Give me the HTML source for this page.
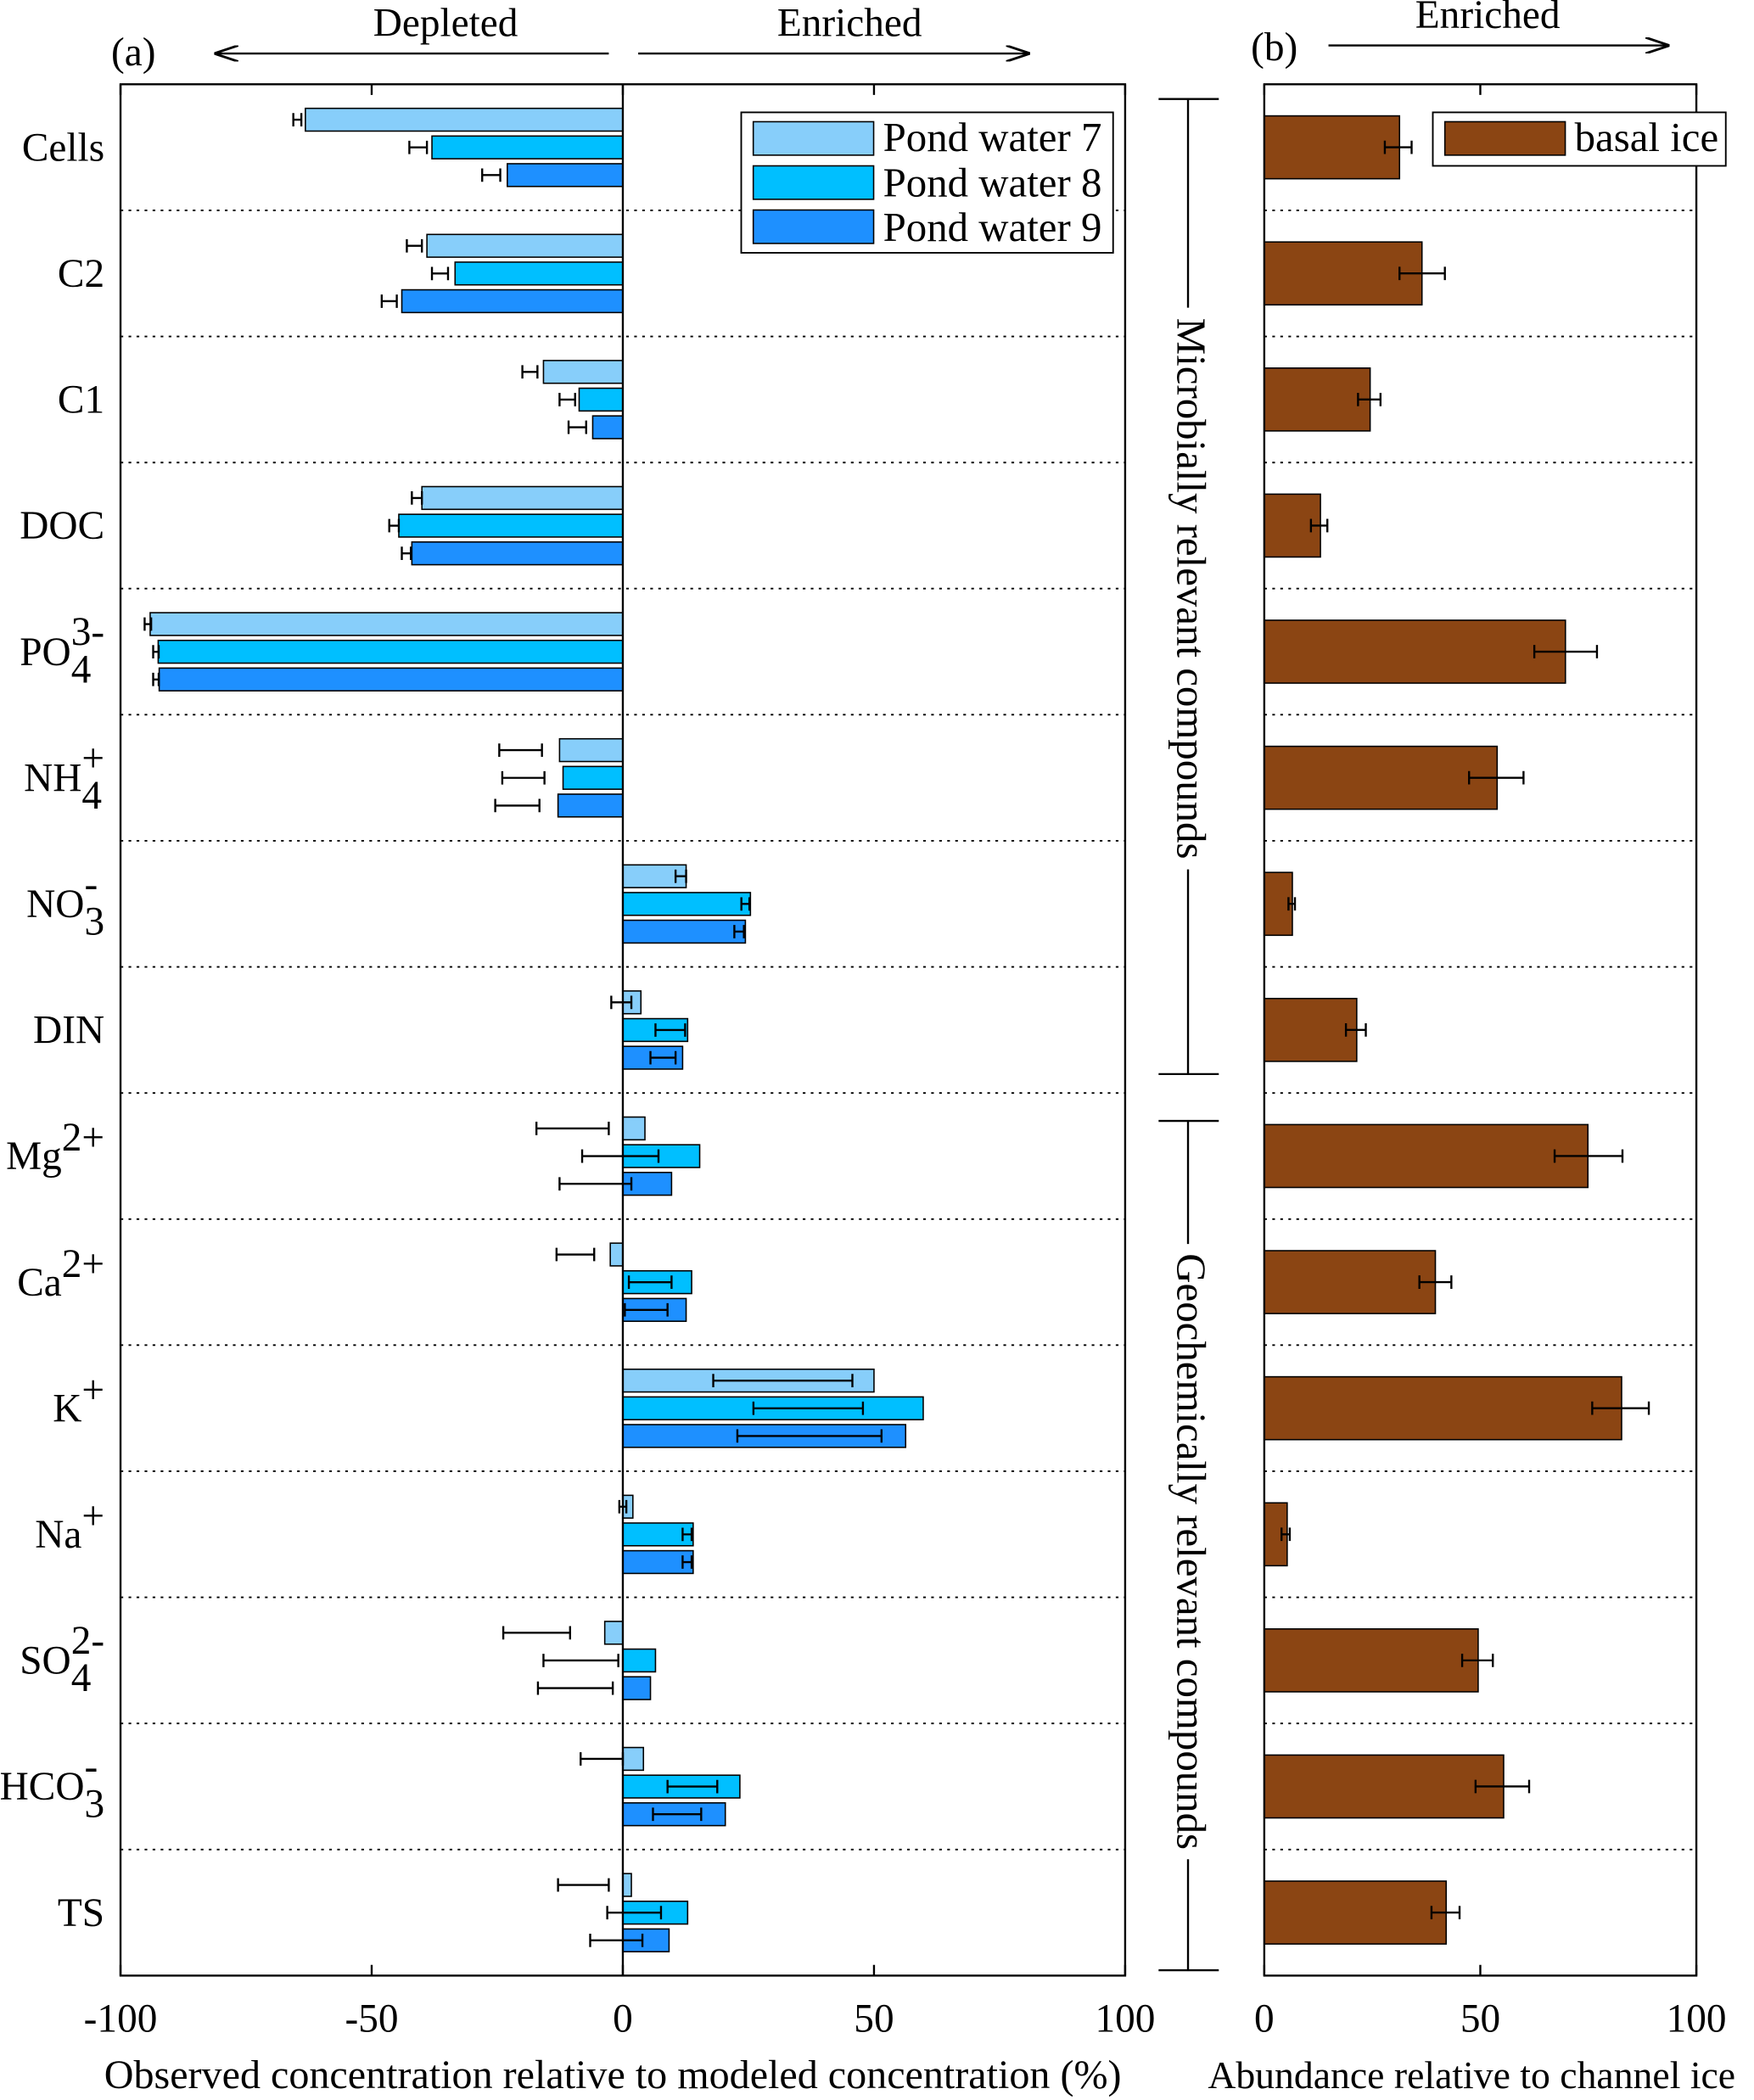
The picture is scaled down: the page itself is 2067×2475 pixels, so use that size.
<!DOCTYPE html>
<html><head><meta charset="utf-8"><style>
html,body{margin:0;padding:0;background:#fff}
svg{display:block;font-family:"Liberation Serif",serif}
</style></head><body>
<svg id="chart" width="2067" height="2475" viewBox="0 0 1311 1570" xmlns="http://www.w3.org/2000/svg">
<g id="root"></g>
</svg>
<script>
window.onerror=function(){return true;};
const categories=["Cells","C2","C1","DOC","PO4","NH4","NO3","DIN","Mg","Ca","K","Na","SO4","HCO3","TS"];
const pond7=[-63.2,-39,-15.8,-40,-94.1,-12.6,12.6,3.6,4.4,-2.5,50,2,-3.6,4.1,1.7];
const pond8=[-38,-33.4,-8.7,-44.6,-92.5,-11.9,25.4,12.9,15.3,13.7,59.8,14,6.5,23.3,12.9];
const pond9=[-23,-44,-6,-42,-92.3,-12.9,24.4,11.9,9.7,12.6,56.3,14,5.5,20.4,9.2];
const err7Lo=[-65.6,-43,-20,-42,-95.2,-24.6,10.5,-2.3,-17.2,-13.2,18,-0.7,-23.8,-8.4,-12.9];
const err7Hi=[-64,-40,-17,-40,-93.9,-16.1,12.6,1.7,-2.8,-5.7,45.7,0.7,-10.5,0,-2.8];
const err8Lo=[-42.5,-38,-12.6,-46.5,-93.5,-24,23.6,6.5,-8.1,1.2,26,11.9,-15.8,8.9,-3.1];
const err8Hi=[-39,-34.8,-9.5,-44.6,-92.4,-15.6,25.2,12.4,7.1,9.7,47.8,13.7,-0.9,18.8,7.6];
const err9Lo=[-28,-48,-10.8,-44,-93.5,-25.4,22.2,5.5,-12.6,0.4,22.8,11.9,-16.9,6,-6.5];
const err9Hi=[-24.4,-45,-7.3,-42.2,-92.4,-16.6,24.1,10.5,1.7,8.9,51.5,13.7,-2,15.6,3.9];
const basal=[31.3,36.5,24.5,13,69.7,53.9,6.5,21.4,74.9,39.6,82.7,5.3,49.5,55.4,42.1];
const basalLo=[27.9,31.3,21.7,10.8,62.5,47.4,5.6,18.9,67.2,35.9,75.9,4,45.8,48.9,38.7];
const basalHi=[34.1,41.8,26.9,14.6,77,60,7.1,23.5,82.9,43.3,89,5.9,52.9,61.3,45.2];
const ticksA=[-100,-50,0,50,100];
const ticksB=[0,50,100];

const NS="http://www.w3.org/2000/svg";
const root=document.getElementById('root');
function el(tag,attrs,parent){const e=document.createElementNS(NS,tag);for(const k in attrs)e.setAttribute(k,attrs[k]);(parent||root).appendChild(e);return e;}
const plotTop=63,plotBot=1477,band=(plotBot-plotTop)/categories.length;
const ax=v=>465.5+v*3.755;
const bx=v=>945+v*3.23;
const labels={"Cells":["Cells"],"C2":["C2"],"C1":["C1"],"DOC":["DOC"],"PO4":["PO","4","3-"],"NH4":["NH","4","+"],"NO3":["NO","3","-"],"DIN":["DIN"],"Mg":["Mg","","2+"],"Ca":["Ca","","2+"],"K":["K","","+"],"Na":["Na","","+"],"SO4":["SO","4","2-"],"HCO3":["HCO","3","-"],"TS":["TS"]};

for(let k=1;k<categories.length;k++){
  const y=plotTop+band*k;
  const s1=el('line',{x1:90,x2:841,y1:y,y2:y,stroke:'#000','stroke-width':1.2,'stroke-dasharray':'2,4'});
  
  
  const s2=el('line',{x1:945,x2:1268,y1:y,y2:y,stroke:'#000','stroke-width':1.2,'stroke-dasharray':'2,4'});
  
  
}
const series=[[pond7,err7Lo,err7Hi,'#87CEFA'],[pond8,err8Lo,err8Hi,'#00BFFF'],[pond9,err9Lo,err9Hi,'#1E90FF']];
categories.forEach((c,i)=>{
  const bt=plotTop+band*i;
  series.forEach((s,j)=>{
    const cy=bt+26.5+j*20.7;
    const v=s[0][i];
    const x0=Math.min(ax(0),ax(v)),w=Math.abs(ax(v)-ax(0));
    const r=el('rect',{x:x0,y:cy-8.5,width:w,height:17,fill:s[3],stroke:'#000','stroke-width':1});
    
    
    const g=el('path',{d:`M${ax(s[1][i])},${cy}H${ax(s[2][i])}M${ax(s[1][i])},${cy-5}v10M${ax(s[2][i])},${cy-5}v10`,stroke:'#000','stroke-width':1.5,fill:'none'});
    
    
  });
  const cy=bt+band/2;
  const r=el('rect',{x:bx(0),y:cy-23.5,width:bx(basal[i])-bx(0),height:47,fill:'#8B4513',stroke:'#000','stroke-width':1});
  
  
  const g=el('path',{d:`M${bx(basalLo[i])},${cy}H${bx(basalHi[i])}M${bx(basalLo[i])},${cy-5}v10M${bx(basalHi[i])},${cy-5}v10`,stroke:'#000','stroke-width':1.5,fill:'none'});
  
  
  const L=labels[c];
  const t=el('text',{x:78,y:cy+10,'text-anchor':'end','font-size':30});
  
  
  if(L.length===1){t.textContent=L[0];}
  else{
    const a=el('tspan',{},t);a.textContent=L[0];
    if(L[1]){const s=el('tspan',{dy:13},t);s.textContent=L[1];
      const p=el('tspan',{dx:-15,dy:-28},t);p.textContent=L[2];
      const z=el('tspan',{dy:15,'font-size':1},t);z.textContent=' ';}
    else{const p=el('tspan',{dy:-14},t);p.textContent=L[2];
      const z=el('tspan',{dy:14,'font-size':1},t);z.textContent=' ';}
  }
});
const zl=el('line',{x1:ax(0),x2:ax(0),y1:plotTop,y2:plotBot,stroke:'#000','stroke-width':1.5});


const fa=el('rect',{x:90,y:plotTop,width:751,height:plotBot-plotTop,fill:'none',stroke:'#000','stroke-width':1.5});


const fb=el('rect',{x:945,y:plotTop,width:323,height:plotBot-plotTop,fill:'none',stroke:'#000','stroke-width':1.5});


ticksA.forEach(v=>{
  const tk=el('path',{d:`M${ax(v)},${plotBot}v-8M${ax(v)},${plotTop}v8`,stroke:'#000','stroke-width':1.5});
  
  
  const t=el('text',{x:ax(v),y:1519,'text-anchor':'middle','font-size':30});
  
  
  t.textContent=v;
});
ticksB.forEach(v=>{
  const tk=el('path',{d:`M${bx(v)},${plotBot}v-8M${bx(v)},${plotTop}v8`,stroke:'#000','stroke-width':1.5});
  
  
  const t=el('text',{x:bx(v),y:1519,'text-anchor':'middle','font-size':30});
  
  
  t.textContent=v;
});
</script>
<svg style="position:absolute;left:0;top:0" width="2067" height="2475" viewBox="0 0 1311 1570" xmlns="http://www.w3.org/2000/svg" font-family="Liberation Serif, serif">
<defs><marker id="ar" markerWidth="12" markerHeight="8" refX="12" refY="4" orient="auto"><path d="M0,0L12,4L0,8" fill="none" stroke="#000" stroke-width="1.2"/></marker></defs>
<text x="458" y="1561" text-anchor="middle" font-size="30.5">Observed concentration relative to modeled concentration (%)</text>
<text x="1100" y="1561" text-anchor="middle" font-size="29">Abundance relative to channel ice</text>
<text x="83" y="49" font-size="30">(a)</text>
<text x="935" y="45" font-size="30">(b)</text>
<text x="333" y="27" text-anchor="middle" font-size="30">Depleted</text>
<line x1="455" y1="40" x2="160" y2="40" stroke="#000" stroke-width="1.5" marker-end="url(#ar)"/>
<text x="635" y="27" text-anchor="middle" font-size="30">Enriched</text>
<line x1="477" y1="40" x2="770" y2="40" stroke="#000" stroke-width="1.5" marker-end="url(#ar)"/>
<text x="1112" y="21" text-anchor="middle" font-size="30">Enriched</text>
<line x1="993" y1="34" x2="1248" y2="34" stroke="#000" stroke-width="1.5" marker-end="url(#ar)"/>
<g>
<rect x="554" y="84" width="278" height="105" fill="#fff" stroke="#000" stroke-width="1.2"/>
<rect x="563" y="91" width="90" height="25" fill="#87CEFA" stroke="#000"/>
<text x="660" y="113" font-size="31">Pond water 7</text>
<rect x="563" y="124" width="90" height="25" fill="#00BFFF" stroke="#000"/>
<text x="660" y="147" font-size="31">Pond water 8</text>
<rect x="563" y="157" width="90" height="25" fill="#1E90FF" stroke="#000"/>
<text x="660" y="180" font-size="31">Pond water 9</text>
</g>
<g>
<rect x="1071" y="84" width="219" height="40" fill="#fff" stroke="#000" stroke-width="1.2"/>
<rect x="1080" y="91" width="90" height="25" fill="#8B4513" stroke="#000"/>
<text x="1177" y="113" font-size="31">basal ice</text>
</g>
<g stroke="#000" stroke-width="1.5">
<path d="M866,74H911M866,803H911M888,74V230M888,650V803"/>
</g>
<text transform="translate(880,440) rotate(90)" text-anchor="middle" font-size="31">Microbially relevant compounds</text>
<g stroke="#000" stroke-width="1.5">
<path d="M866,838H911M866,1473H911M888,838V930M888,1390V1473"/>
</g>
<text transform="translate(880,1160) rotate(90)" text-anchor="middle" font-size="31">Geochemically relevant compounds</text>
</svg>
</body></html>
